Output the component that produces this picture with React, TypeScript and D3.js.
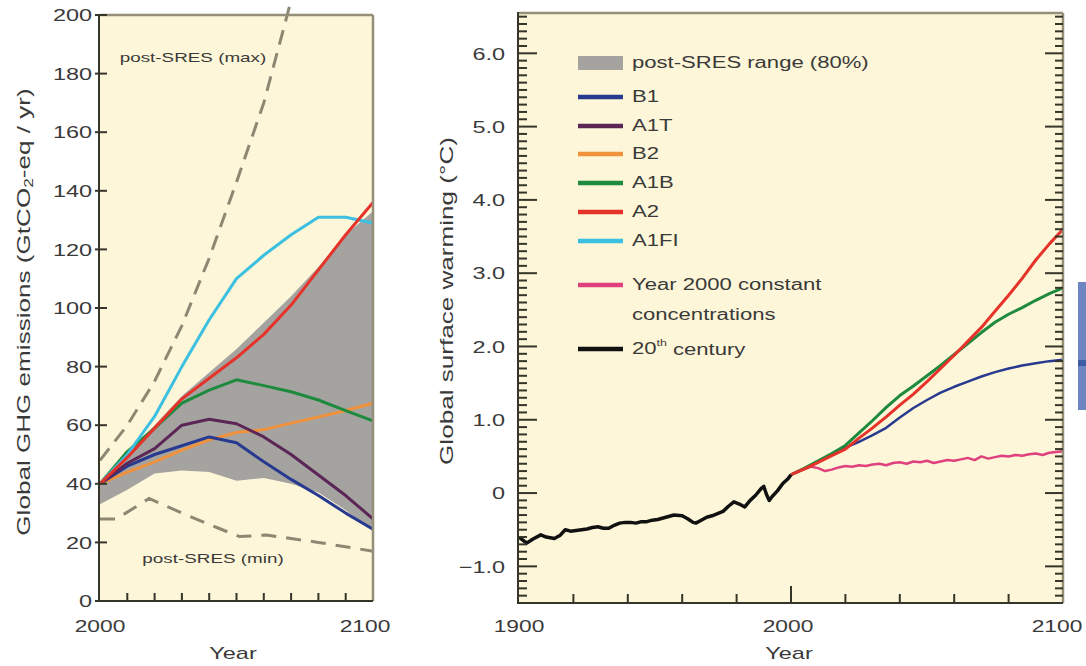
import React from "react";
import * as d3 from "d3";

// ---------- LEFT PANEL DATA (GtCO2-eq / yr) ----------
const YEARS_E = [2000, 2010, 2020, 2030, 2040, 2050, 2060, 2070, 2080, 2090, 2100];
const B1_E = [40, 46, 50, 53, 56, 54, 47.5, 41.5, 36, 30, 24.5];
const A1T_E = [40, 47, 52, 60, 62, 60.5, 56, 50, 43, 36, 28];
const B2_E = [40, 44, 47.5, 51.5, 55, 57.5, 58.5, 60.7, 62.8, 65, 67.5];
const A1B_E = [40, 51, 59, 67.5, 72, 75.5, 73.5, 71.4, 68.6, 65, 61.5];
const A2_E = [40, 49, 59, 69, 76, 83, 91, 101, 113, 125, 136];
const A1FI_E = [40, 50, 63, 80, 96, 110, 118, 125, 131, 131, 129];
const BAND_LOW = [33, 38, 43.5, 44.5, 44, 41, 42, 40, 37, 31, 24];
const BAND_HIGH = [40, 50, 60, 70, 78, 86, 95, 104, 114, 125, 133];
const MAX_YEARS = [2000, 2010, 2020, 2030, 2040, 2050, 2060, 2070];
const MAX_VALS = [48, 60, 75, 94, 117, 143, 170, 205];
const MIN_YEARS = [2000, 2006, 2018, 2030, 2043, 2051, 2061, 2080, 2100];
const MIN_VALS = [28, 28, 35, 30, 25, 22, 22.5, 20, 17];
const Y_TICKS_E = [0, 20, 40, 60, 80, 100, 120, 140, 160, 180, 200];

// ---------- RIGHT PANEL DATA (°C) ----------
const HIST_YEARS = [1900, 1902, 1903, 1905, 1908, 1910, 1913, 1915, 1917, 1919, 1921, 1923, 1925, 1927, 1929, 1931, 1933, 1935, 1937, 1939, 1941, 1943, 1945, 1947, 1949, 1951, 1953, 1955, 1957, 1960, 1962, 1964, 1965, 1967, 1969, 1971, 1973, 1975, 1977, 1979, 1981, 1983, 1985, 1987, 1989, 1990, 1991, 1992, 1993, 1995, 1997, 1999, 2000];
const HIST_VALS = [-0.6, -0.66, -0.68, -0.63, -0.57, -0.6, -0.62, -0.58, -0.5, -0.52, -0.51, -0.5, -0.49, -0.47, -0.46, -0.48, -0.48, -0.44, -0.41, -0.4, -0.4, -0.41, -0.39, -0.39, -0.37, -0.36, -0.34, -0.32, -0.3, -0.31, -0.35, -0.4, -0.41, -0.37, -0.33, -0.31, -0.28, -0.25, -0.18, -0.12, -0.15, -0.19, -0.1, -0.03, 0.06, 0.09, -0.02, -0.1, -0.05, 0.03, 0.13, 0.2, 0.25];
const PROJ_YEARS = [2000, 2005, 2010, 2015, 2020, 2025, 2030, 2035, 2040, 2045, 2050, 2055, 2060, 2065, 2070, 2075, 2080, 2085, 2090, 2095, 2100];
const B1_T = [0.25, 0.33, 0.43, 0.52, 0.62, 0.7, 0.79, 0.89, 1.03, 1.16, 1.27, 1.37, 1.45, 1.52, 1.59, 1.65, 1.7, 1.74, 1.77, 1.8, 1.82];
const A1B_T = [0.25, 0.34, 0.44, 0.54, 0.65, 0.82, 0.99, 1.17, 1.33, 1.46, 1.6, 1.74, 1.89, 2.04, 2.19, 2.33, 2.44, 2.53, 2.63, 2.72, 2.8];
const A2_T = [0.25, 0.33, 0.42, 0.51, 0.6, 0.75, 0.89, 1.04, 1.2, 1.35, 1.52, 1.7, 1.88, 2.07, 2.26, 2.48, 2.7, 2.93, 3.18, 3.4, 3.6];
const CONST_YEARS = [2000, 2002.5, 2005, 2007.5, 2010, 2012.5, 2015, 2017.5, 2020, 2022.5, 2025, 2027.5, 2030, 2032.5, 2035, 2037.5, 2040, 2042.5, 2045, 2047.5, 2050, 2052.5, 2055, 2057.5, 2060, 2062.5, 2065, 2067.5, 2070, 2072.5, 2075, 2077.5, 2080, 2082.5, 2085, 2087.5, 2090, 2092.5, 2095, 2097.5, 2100];
const CONST_T = [0.25, 0.3, 0.33, 0.36, 0.34, 0.3, 0.32, 0.35, 0.37, 0.36, 0.38, 0.37, 0.39, 0.4, 0.38, 0.41, 0.42, 0.4, 0.43, 0.42, 0.44, 0.41, 0.43, 0.45, 0.44, 0.46, 0.48, 0.45, 0.5, 0.47, 0.49, 0.51, 0.5, 0.52, 0.51, 0.53, 0.54, 0.52, 0.55, 0.56, 0.57];
const Y_TICKS_T = [-1, 0, 1, 2, 3, 4, 5, 6];
const Y_TICK_LABELS_T = ["\u22121.0", "0", "1.0", "2.0", "3.0", "4.0", "5.0", "6.0"];

const COLORS = {
  B1: "#283a90",
  A1T: "#5b2556",
  B2: "#f0913c",
  A1B: "#1d8a3e",
  A2: "#e6332a",
  A1FI: "#3cc0e2",
  CONST: "#e0417e",
  HIST: "#111111",
  BAND: "#a4a3a0",
  DASH: "#8d8873",
};
const BG = "#fdf6d8";
const FRAME = "#958f7a";
const AXIS = "#35352a";
const TXT = "#3a3a3a";
const FONT = "'Liberation Sans', Arial, sans-serif";
const SX = 1.38;

const LEGEND = [
  { label: "post-SRES range (80%)", color: COLORS.BAND, kind: "rect" },
  { label: "B1", color: COLORS.B1, kind: "line" },
  { label: "A1T", color: COLORS.A1T, kind: "line" },
  { label: "B2", color: COLORS.B2, kind: "line" },
  { label: "A1B", color: COLORS.A1B, kind: "line" },
  { label: "A2", color: COLORS.A2, kind: "line" },
  { label: "A1FI", color: COLORS.A1FI, kind: "line" },
  { label: "Year 2000 constant", label2: "concentrations", color: COLORS.CONST, kind: "line" },
  { label: "20", sup: "th", rest: " century", color: COLORS.HIST, kind: "line" },
];
const LEGEND_Y = [63, 97, 126, 154, 183, 212, 241, 285, 349];

function T({ x, y, children, size = 16, anchor = "start", rotate = 0, sx = SX, fill = TXT }: any) {
  return (
    <text
      transform={`translate(${x},${y}) rotate(${rotate}) scale(${sx},1)`}
      fontSize={size}
      textAnchor={anchor}
      dominantBaseline="central"
      fill={fill}
      fontFamily={FONT}
    >
      {children}
    </text>
  );
}

export default function App() {
  const xL = d3.scaleLinear().domain([2000, 2100]).range([100, 373]);
  const yL = d3.scaleLinear().domain([0, 200]).range([601, 15]);
  const xR = d3.scaleLinear().domain([1900, 2100]).range([519, 1063]);
  const yR = d3.scaleLinear().domain([-1.5, 6.55]).range([603, 13]);

  const lineL = d3.line<[number, number]>().x((d) => xL(d[0])).y((d) => yL(d[1]));
  const lineR = d3.line<[number, number]>().x((d) => xR(d[0])).y((d) => yR(d[1]));
  const zip = (xs: number[], ys: number[]) => xs.map((x, i) => [x, ys[i]] as [number, number]);

  const bandArea = d3
    .area<number>()
    .x((d) => xL(d))
    .y0((_, i) => yL(BAND_LOW[i]))
    .y1((_, i) => yL(BAND_HIGH[i]));

  const emissionSeries = [
    { v: B2_E, c: COLORS.B2 },
    { v: B1_E, c: COLORS.B1 },
    { v: A1T_E, c: COLORS.A1T },
    { v: A1B_E, c: COLORS.A1B },
    { v: A1FI_E, c: COLORS.A1FI },
    { v: A2_E, c: COLORS.A2 },
  ];

  const [l0, l1] = xL.range();
  const [lb, lt] = yL.range();
  const [r0, r1] = xR.range();
  const [rb, rt] = yR.range();

  const minorT = d3.range(-15, 66).map((i) => i / 10);

  return (
    <svg width={1086} height={666} style={{ position: "absolute", left: 0, top: 0, background: "#fff" }}>
      {/* ================= LEFT PANEL ================= */}
      <rect x={l0} y={lt} width={l1 - l0} height={lb - lt} fill={BG} />
      <path d={bandArea(YEARS_E) || ""} fill={COLORS.BAND} />
      <path d={lineL(zip(MAX_YEARS, MAX_VALS)) || ""} fill="none" stroke={COLORS.DASH} strokeWidth={3} strokeDasharray="15,9" />
      <path d={lineL(zip(MIN_YEARS, MIN_VALS)) || ""} fill="none" stroke={COLORS.DASH} strokeWidth={3} strokeDasharray="15,10" />
      {emissionSeries.map((s, i) => (
        <path key={i} d={lineL(zip(YEARS_E, s.v)) || ""} fill="none" stroke={s.c} strokeWidth={3} strokeLinejoin="round" />
      ))}
      <line x1={l0} x2={l1} y1={lt} y2={lt} stroke={FRAME} strokeWidth={2.5} />
      <line x1={l1} x2={l1} y1={lt} y2={lb} stroke={FRAME} strokeWidth={2.5} />
      <line x1={l0 - 1} x2={l0 - 1} y1={lt - 1} y2={lb} stroke={AXIS} strokeWidth={2} />
      <line x1={l0 - 2} x2={l1} y1={lb} y2={lb} stroke={AXIS} strokeWidth={2} />
      {Y_TICKS_E.map((t) => (
        <g key={t}>
          <line x1={l0 - 5} x2={l0 + 7} y1={yL(t)} y2={yL(t)} stroke={AXIS} strokeWidth={2} />
          <T x={l0 - 8} y={yL(t)} anchor="end" size={17}>{t}</T>
        </g>
      ))}
      {d3.range(2010, 2100, 10).map((yr) => (
        <line key={yr} x1={xL(yr)} x2={xL(yr)} y1={lb} y2={lb - 8} stroke={AXIS} strokeWidth={2} />
      ))}
      <T x={xL(2000)} y={626} anchor="middle" size={16.5}>2000</T>
      <T x={xL(2100) - 8} y={626} anchor="middle" size={16.5}>2100</T>
      <T x={233} y={653} anchor="middle" size={17}>Year</T>
      <T x={24} y={312} anchor="middle" size={18} rotate={-90} sx={1.45}>
        Global GHG emissions (GtCO
        <tspan fontSize={12} dy={4}>2</tspan>
        <tspan dy={-4}>-eq / yr)</tspan>
      </T>
      <T x={193} y={57} anchor="middle" size={13} sx={1.45}>post-SRES (max)</T>
      <T x={213} y={558} anchor="middle" size={13} sx={1.45}>post-SRES (min)</T>

      {/* ================= RIGHT PANEL ================= */}
      <rect x={r0} y={rt} width={r1 - r0} height={rb - rt} fill={BG} />
      <path d={lineR(zip(CONST_YEARS, CONST_T)) || ""} fill="none" stroke={COLORS.CONST} strokeWidth={2.5} strokeLinejoin="round" />
      <path d={lineR(zip(PROJ_YEARS, B1_T)) || ""} fill="none" stroke={COLORS.B1} strokeWidth={2.5} strokeLinejoin="round" />
      <path d={lineR(zip(PROJ_YEARS, A1B_T)) || ""} fill="none" stroke={COLORS.A1B} strokeWidth={3} strokeLinejoin="round" />
      <path d={lineR(zip(PROJ_YEARS, A2_T)) || ""} fill="none" stroke={COLORS.A2} strokeWidth={3} strokeLinejoin="round" />
      <path d={lineR(zip(HIST_YEARS, HIST_VALS)) || ""} fill="none" stroke={COLORS.HIST} strokeWidth={3.5} strokeLinejoin="round" />

      <line x1={r0} x2={r1} y1={rt} y2={rt} stroke={FRAME} strokeWidth={2.5} />
      <line x1={r1} x2={r1} y1={rt} y2={rb} stroke={FRAME} strokeWidth={2.5} />
      <line x1={r0 - 1} x2={r0 - 1} y1={rt - 1} y2={rb} stroke={AXIS} strokeWidth={2} />
      <line x1={r0 - 2} x2={r1} y1={rb} y2={rb} stroke={AXIS} strokeWidth={2} />
      {minorT.map((t) => {
        const major = Math.abs(t - Math.round(t)) < 1e-6;
        const len = major ? 18 : 8;
        return (
          <g key={t}>
            <line x1={r0} x2={r0 + len} y1={yR(t)} y2={yR(t)} stroke={AXIS} strokeWidth={2} />
            <line x1={r1} x2={r1 - len} y1={yR(t)} y2={yR(t)} stroke={AXIS} strokeWidth={2} />
          </g>
        );
      })}
      {Y_TICKS_T.map((t, i) => (
        <T key={t} x={505} y={yR(t)} anchor="end" size={17}>{Y_TICK_LABELS_T[i]}</T>
      ))}
      {d3.range(1920, 2100, 20).map((yr) => (
        <line key={yr} x1={xR(yr)} x2={xR(yr)} y1={rb} y2={rb - (yr === 2000 ? 17 : 9)} stroke={AXIS} strokeWidth={2} />
      ))}
      <T x={xR(1900)} y={626} anchor="middle" size={16.5}>1900</T>
      <T x={xR(2000) - 3} y={626} anchor="middle" size={16.5}>2000</T>
      <T x={xR(2100) - 6} y={626} anchor="middle" size={16.5}>2100</T>
      <T x={789} y={653} anchor="middle" size={17}>Year</T>
      <T x={447} y={301} anchor="middle" size={18} rotate={-90} sx={1.45}>Global surface warming (°C)</T>

      {LEGEND.map((item, i) => {
        const y = LEGEND_Y[i];
        return (
          <g key={i}>
            {item.kind === "rect" ? (
              <rect x={578} y={y - 7} width={45} height={14} fill={item.color} />
            ) : (
              <line x1={578} x2={623} y1={y} y2={y} stroke={item.color} strokeWidth={4.5} />
            )}
            {item.sup ? (
              <T x={632} y={y} size={16}>
                {item.label}
                <tspan fontSize={9} dy={-6}>{item.sup}</tspan>
                <tspan dy={6}>{item.rest}</tspan>
              </T>
            ) : (
              <T x={632} y={y} size={16}>{item.label}</T>
            )}
            {item.label2 && <T x={632} y={y + 30} size={16}>{item.label2}</T>}
          </g>
        );
      })}

      <rect x={1078} y={282} width={10} height={128} fill="#6d86c2" />
      <rect x={1078} y={360} width={10} height={6} fill="#3d5ca6" />
    </svg>
  );
}
